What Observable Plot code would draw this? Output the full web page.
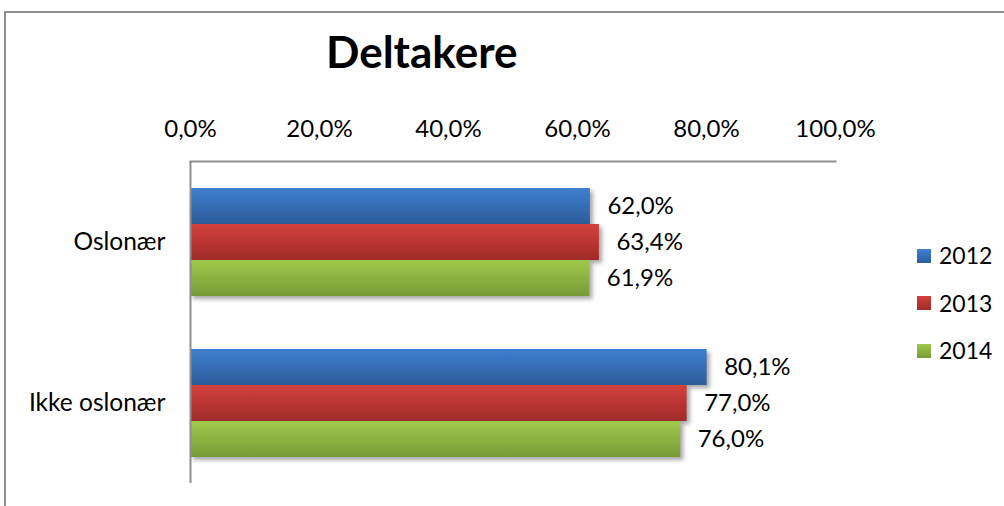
<!DOCTYPE html>
<html>
<head>
<meta charset="utf-8">
<script src="https://cdn.jsdelivr.net/npm/d3@7"></script>
<script src="https://cdn.jsdelivr.net/npm/@observablehq/plot@0.6"></script>
<style>
  body { margin: 0; background: #fff; font-family: Lato, "Open Sans", sans-serif; }
  #wrap { position: relative; width: 1004px; height: 506px; overflow: hidden; background: #fff; }
  #frame { position: absolute; left: 4px; top: 11px; width: 1100px; height: 600px;
           border-left: 2px solid #8f8f8f; border-top: 2px solid #8f8f8f; }
  #chart { position: absolute; left: 0; top: 0; }
  #title { position: absolute; left: 326px; top: 29px; font-size: 44px; font-weight: 700;
           line-height: 1; color: #000; white-space: nowrap; }
  #legend { position: absolute; left: 917px; top: 0; }
  .lg { position: absolute; left: 0; display: flex; align-items: center; white-space: nowrap;
        font-size: 23px; line-height: 1; color: #000; }
  .sw { width: 14px; height: 14px; margin-right: 8px; }
  g[aria-label="bar"] rect { filter: drop-shadow(3px 3px 2px rgba(0,0,0,0.35)); }
  g[aria-label="fy-axis tick label"] text { font-size: 24.5px; }
</style>
</head>
<body>
<svg width="0" height="0" style="position:absolute">
  <defs id="defs"></defs>
</svg>
<div id="wrap">
  <div id="frame"></div>
  <div id="chart"></div>
  <div id="title">Deltakere</div>
  <div id="legend"></div>
</div>
<script>
// ---- data ----
const categories = ["Oslonær", "Ikke oslonær"];
const years = ["2012", "2013", "2014"];
const values2012 = [0.620, 0.801];
const values2013 = [0.634, 0.770];
const values2014 = [0.619, 0.760];
const xTicks = [0, 0.2, 0.4, 0.6, 0.8, 1.0];

// ---- styles ----
const topColors = ["#3f7fd0", "#d3403b", "#a0c94c"];
const bottomColors = ["#2c5c9a", "#a02b29", "#789b37"];

const seriesValues = [values2012, values2013, values2014];
const data = [];
categories.forEach((c, i) => {
  years.forEach((y, j) => data.push({category: c, year: y, value: seriesValues[j][i]}));
});

const fmt = v => (v * 100).toFixed(1).replace(".", ",") + "%";

// gradients
const defs = document.getElementById("defs");
years.forEach((y, j) => {
  defs.insertAdjacentHTML("beforeend",
    `<linearGradient id="g${y}" x1="0" y1="0" x2="0" y2="1">
       <stop offset="0" stop-color="${topColors[j]}"/>
       <stop offset="1" stop-color="${bottomColors[j]}"/>
     </linearGradient>`);
});

const chart = Plot.plot({
  width: 1004,
  height: 506,
  marginLeft: 190,
  marginRight: 169,
  marginTop: 160,
  marginBottom: 23,
  style: {fontFamily: "Lato, 'Open Sans', sans-serif", fontSize: "24px", color: "#000", background: "transparent", overflow: "visible"},
  x: {domain: [0, 1], axis: "top", ticks: xTicks, tickFormat: fmt, tickSize: 0, tickPadding: 25, label: null, line: true},
  y: {domain: years, axis: null, paddingInner: 0, paddingOuter: 0.72},
  fy: {domain: categories, axis: "left", label: null, tickSize: 0, tickPadding: 25, padding: 0},
  color: {domain: years, range: years.map(y => `url(#g${y})`)},
  marks: [
    Plot.barX(data, {x: "value", y: "year", fy: "category", fill: "year"}),
    Plot.text(data, {x: "value", y: "year", fy: "category", text: d => fmt(d.value),
                     dx: 17, textAnchor: "start", fontSize: 24, fill: "#000"}),
    Plot.ruleX([0], {stroke: "#8f8f8f", strokeWidth: 2})
  ]
});
document.getElementById("chart").appendChild(chart);

// gray axis lines (the implicit top axis line uses currentColor)
chart.querySelectorAll('[stroke="currentColor"]').forEach(el => {
  el.setAttribute("stroke", "#8f8f8f");
  el.setAttribute("stroke-width", 2);
  el.querySelectorAll("path,line").forEach(p => { p.setAttribute("stroke", "#8f8f8f"); p.setAttribute("stroke-width", 2); });
});

// legend
const legend = document.getElementById("legend");
years.forEach((y, j) => {
  const row = document.createElement("div");
  row.className = "lg";
  row.style.top = (244 + j * 47.5) + "px";
  row.innerHTML = `<div class="sw" style="background:linear-gradient(${topColors[j]}, ${bottomColors[j]})"></div><span>${y}</span>`;
  legend.appendChild(row);
});
</script>
</body>
</html>
